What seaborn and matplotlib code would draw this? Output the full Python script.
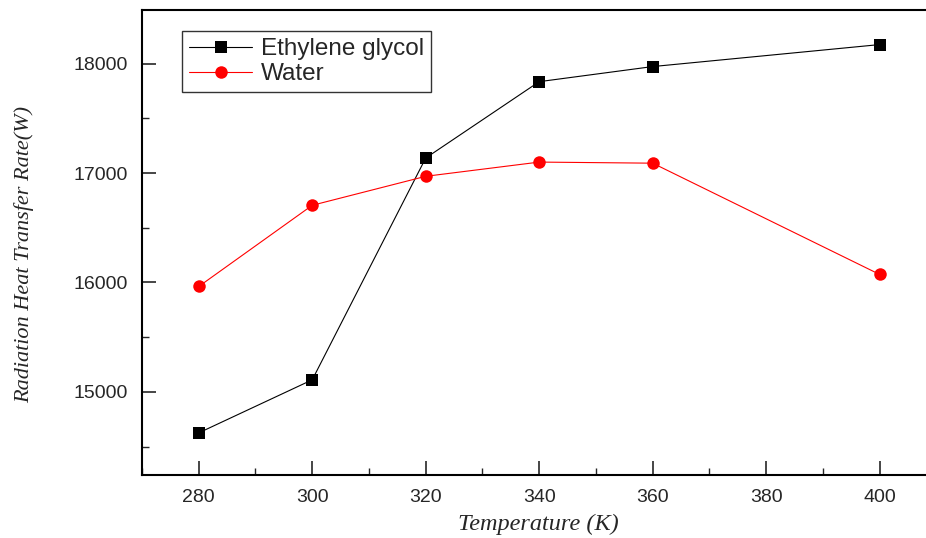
import numpy as np
import pandas as pd
import seaborn as sns
from matplotlib import pyplot as plt
from matplotlib.ticker import MultipleLocator

temperature = [280, 300, 320, 340, 360, 400]
ethylene_glycol = [14625, 15110, 17137, 17835, 17973, 18174]
water = [15963, 16705, 16970, 17100, 17090, 16073]

df = pd.DataFrame({'Temperature': temperature * 2,
                   'Rate': ethylene_glycol + water,
                   'Fluid': ['Ethylene glycol'] * 6 + ['Water'] * 6})

sns.set_style('ticks')
plt.rcParams['font.family'] = ['Liberation Sans', 'DejaVu Sans']

fig = plt.figure(figsize=(9.26, 5.38), dpi=100)
ax = fig.add_axes([142 / 926, 1 - 475 / 538, 1 - 142 / 926 + 0.01, 465 / 538])

ax = sns.lineplot(data=df, x='Temperature', y='Rate', hue='Fluid', style='Fluid',
                  palette={'Ethylene glycol': 'black', 'Water': 'red'},
                  markers={'Ethylene glycol': 's', 'Water': 'o'},
                  dashes=False, linewidth=0.8, markersize=9,
                  markeredgewidth=0, ax=ax)

ax.set_xlim(270, 409.8)
ax.set_ylim(14240, 18490)
ax.xaxis.set_major_locator(MultipleLocator(20))
ax.xaxis.set_minor_locator(MultipleLocator(10))
ax.yaxis.set_major_locator(MultipleLocator(1000))
ax.yaxis.set_minor_locator(MultipleLocator(500))
ax.tick_params(which='major', direction='in', length=10, width=1.2,
               labelsize=14, pad=10, top=False)
ax.tick_params(which='minor', direction='in', length=5, width=1, top=False)
ax.tick_params(axis='y', pad=10)

for side in ['left', 'bottom', 'top']:
    ax.spines[side].set_linewidth(1.5)
    ax.spines[side].set_color('black')
ax.spines['right'].set_visible(False)

ax.set_xlabel('Temperature (K)', fontsize=17.5, style='italic',
              family='Liberation Serif', labelpad=6)
ax.set_ylabel('Radiation Heat Transfer Rate(W)', fontsize=16, style='italic',
              family='Liberation Serif')
ax.yaxis.set_label_coords(-0.136, 0.475)

leg = ax.legend(title=None, loc='upper left', bbox_to_anchor=(0.05, 0.955),
                fontsize=17.5, frameon=True, fancybox=False, borderpad=0.3,
                labelspacing=0.12, handlelength=2.6, handletextpad=0.35,
                borderaxespad=0)
leg.get_frame().set_edgecolor('black')
leg.get_frame().set_linewidth(1)

fig.savefig('out.png', dpi=100)
